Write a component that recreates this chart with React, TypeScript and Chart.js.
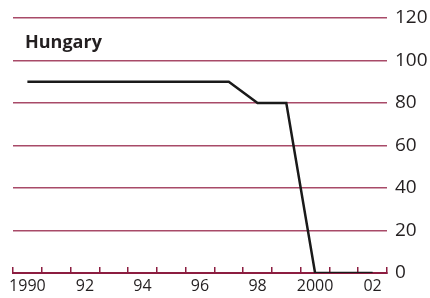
import React, { useEffect, useRef } from "react";
import { Chart, registerables } from "chart.js";

Chart.register(...registerables);

const categories = ["1990","1991","1992","1993","1994","1995","1996","1997","1998","1999","2000","2001","2002"];
const tickLabels = ["1990","","92","","94","","96","","98","","2000","","02"];
const hungaryValues = [90,90,90,90,90,90,90,90,80,80,0,0,0];
const yTicks = [0,20,40,60,80,100,120];
const titleText = "Hungary";

const titlePlugin = {
  id: "insideTitle",
  afterDraw(chart: any) {
    const ctx = chart.ctx;
    ctx.save();
    ctx.font = "bold 18px 'Open Sans'";
    ctx.fillStyle = "#231f20";
    ctx.textAlign = "left";
    ctx.textBaseline = "alphabetic";
    ctx.fillText(titleText, 17, 40);
    ctx.restore();
  },
};

const zeroPad = (s: any) => {
  s.paddingTop = 0;
  s.paddingBottom = 0;
  s.paddingLeft = 0;
  s.paddingRight = 0;
};

export default function App() {
  const ref = useRef<HTMLCanvasElement>(null);
  useEffect(() => {
    const canvas = ref.current!;
    const chart = new Chart(canvas, {
      type: "line",
      data: {
        labels: categories,
        datasets: [
          {
            data: hungaryValues,
            borderColor: "#1a1a1a",
            borderWidth: 2.5,
            pointRadius: 0,
            tension: 0,
            fill: false,
          },
        ],
      },
      options: {
        responsive: false,
        animation: false,
        layout: { padding: { left: 5, top: 10, right: 0, bottom: 0 } },
        plugins: { legend: { display: false }, tooltip: { enabled: false }, title: { display: false } },
        scales: {
          x: {
            offset: true,
            grid: {
              offset: true,
              drawOnChartArea: false,
              drawTicks: true,
              tickLength: -6,
              color: "#8c1d40",
              lineWidth: 1.5,
            },
            border: { display: true, color: "#8c1d40", width: 2 },
            ticks: {
              autoSkip: false,
              maxRotation: 0,
              padding: 10,
              color: "#231f20",
              font: { family: "'Open Sans'", size: 16 },
              callback: (_v: any, i: number) => tickLabels[i],
            },
            afterFit: (s: any) => { s.height = 25; zeroPad(s); },
          },
          y: {
            position: "right",
            min: 0,
            max: 120,
            afterBuildTicks: (s: any) => { s.ticks = yTicks.map((v) => ({ value: v })); },
            grid: { drawTicks: false, color: "#a84a68", lineWidth: 1.5 },
            border: { display: false },
            ticks: {
              padding: 8,
              color: "#231f20",
              font: { family: "'Open Sans'", size: 19, lineHeight: 1 },
            },
            afterFit: (s: any) => { s.width = 43; zeroPad(s); },
          },
        },
      },
      plugins: [titlePlugin],
    });
    return () => chart.destroy();
  }, []);
  return (
    <div style={{ position: "fixed", left: 8, top: 8 }}>
      <canvas ref={ref} width={422} height={290} style={{ display: "block" }} />
    </div>
  );
}
